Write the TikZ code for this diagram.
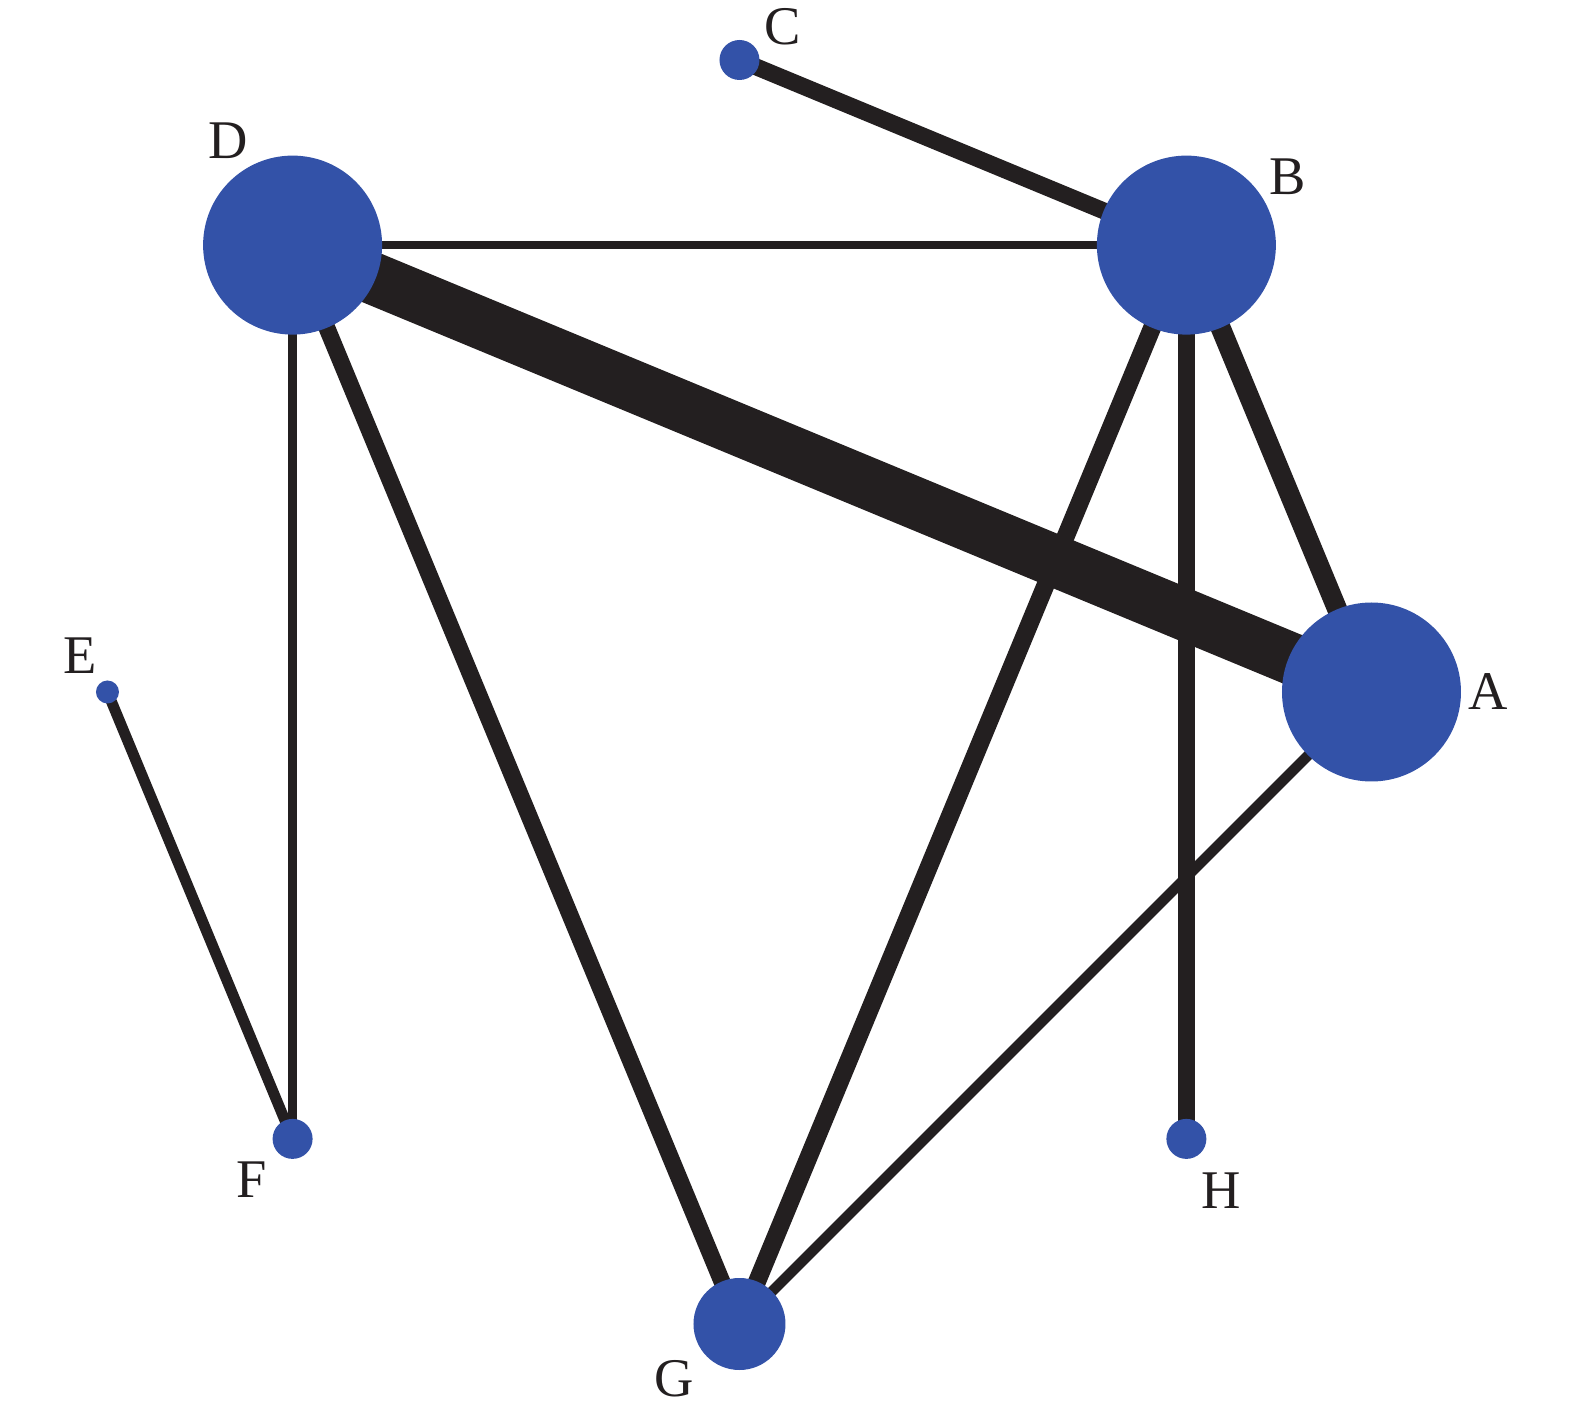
\documentclass[tikz,border=0pt]{standalone}
\usepackage{fontspec}
\setmainfont{Liberation Serif}
\usetikzlibrary{calc,backgrounds}
\definecolor{nodeblue}{RGB}{51,82,168}
\definecolor{edgeblack}{RGB}{35,31,32}

\begin{document}
\begin{tikzpicture}[
	vertex/.style={circle, fill=nodeblue, inner sep=0pt},
	tag/.style={font=\fontsize{15.5}{18}\selectfont, text=edgeblack, inner sep=0pt},
	link/.style={draw=edgeblack}]
	\newcommand{\rr}{6.32}
	\useasboundingbox (-7.395,-7.25) rectangle (8.355,6.92);
	\foreach \n/\ang/\s in {a/0/1.79, b/45/1.79, c/90/0.40, d/135/1.79,
		e/180/0.23, f/225/0.40, g/270/0.92, h/315/0.40}
	{
		\node[vertex, minimum size=\s cm] (\n) at (\ang:\rr) {};
	}
	\begin{scope}[on background layer]
		\foreach \p/\q/\w in {d/a/14.8, b/a/5.7, b/g/5.1, b/h/5.0, d/g/4.8,
			c/b/4.8, a/g/3.0, e/f/3.1, d/f/2.4, d/b/2.3}
		{
			\draw[link, line width=\w pt] (\p.center) -- (\q.center);
		}
	\end{scope}
	\node[tag] (la) at ($(a)+(1.17,0)$) {A};
	\node[tag] (lb) at ($(b)+(1.01,0.68)$) {B};
	\node[tag] (lc) at ($(c)+(0.43,0.33)$) {C};
	\node[tag] (ld) at ($(d)+(-0.64,1.04)$) {D};
	\node[tag] (le) at ($(e)+(-0.275,0.36)$) {E};
	\node[tag] (lf) at ($(f)+(-0.41,-0.41)$) {F};
	\node[tag] (lg) at ($(g)+(-0.65,-0.55)$) {G};
	\node[tag] (lh) at ($(h)+(0.35,-0.52)$) {H};
\end{tikzpicture}
\end{document}
